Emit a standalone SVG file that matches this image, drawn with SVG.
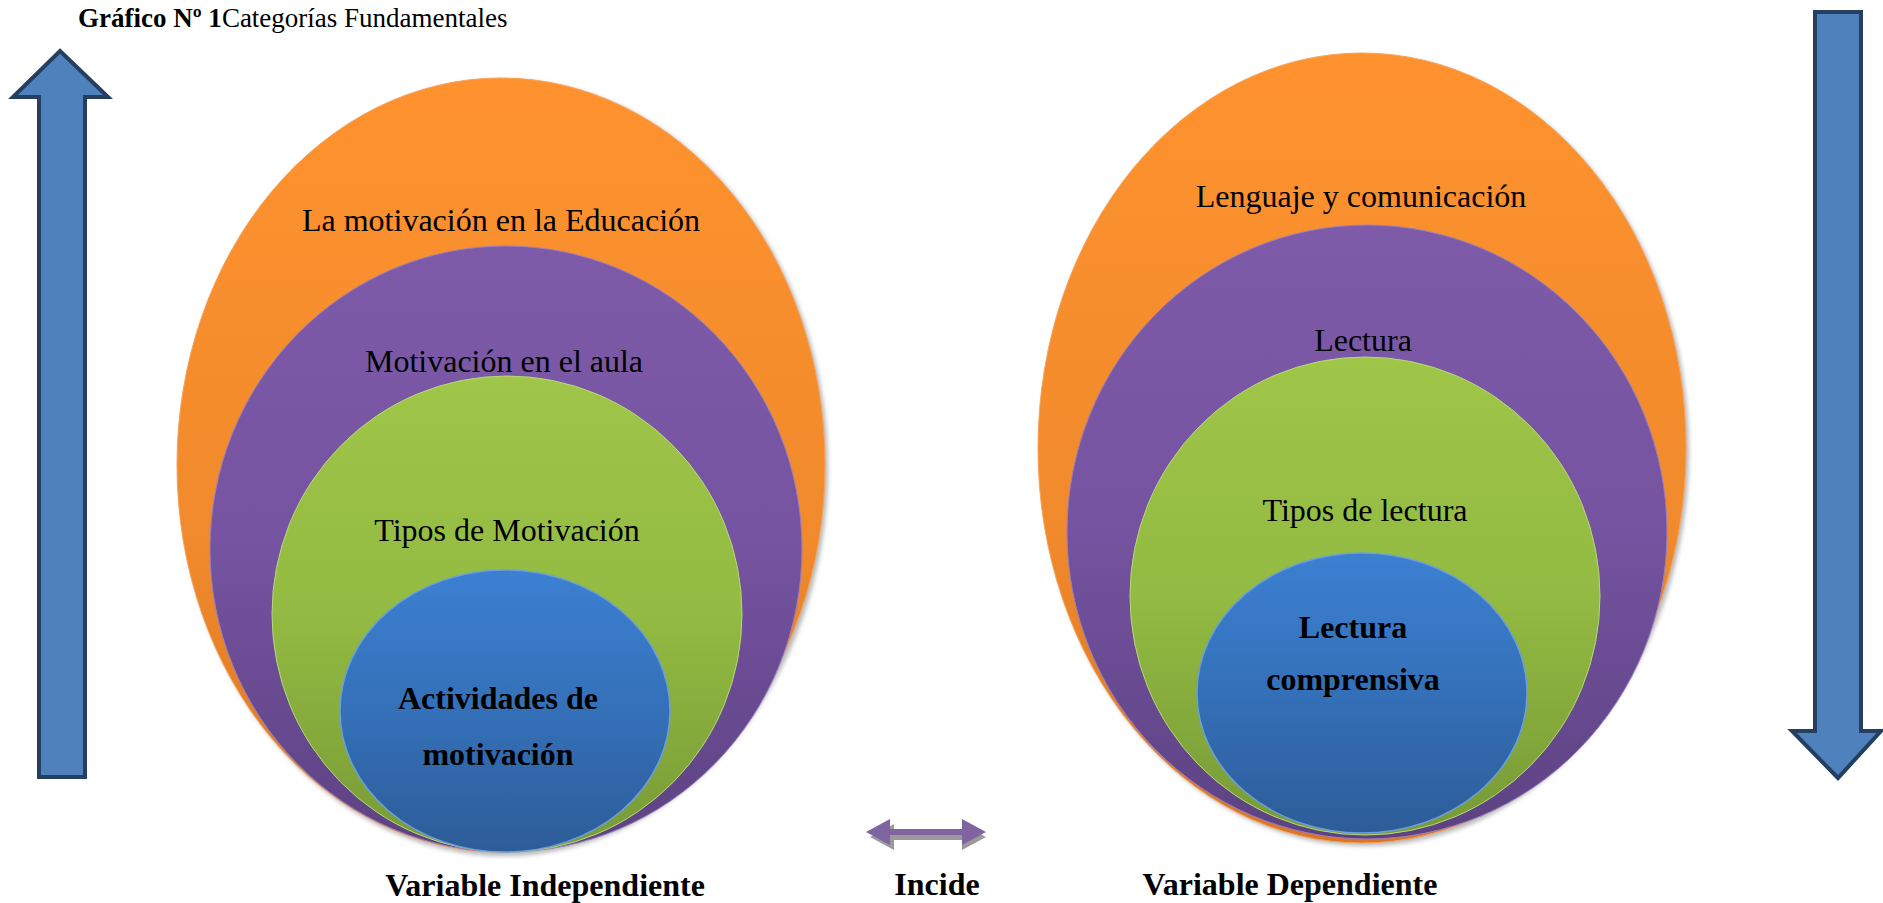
<svg xmlns="http://www.w3.org/2000/svg" width="1883" height="903" viewBox="0 0 1883 903">
<style>
.t{font-family:"Liberation Serif","Times New Roman",serif;fill:#000}
.lbl{font-size:32px;text-anchor:middle}
.b{font-weight:bold}
.arrow{fill:#4F81BD;stroke:#243F60;stroke-width:4;stroke-linejoin:miter}
</style>
<defs>
<linearGradient id="gO" x1="0" y1="0" x2="0" y2="1"><stop offset="0" stop-color="#FF922E"/><stop offset="0.6" stop-color="#F08A2C"/><stop offset="1" stop-color="#D97526"/></linearGradient>
<linearGradient id="gP" x1="0" y1="0" x2="0" y2="1"><stop offset="0" stop-color="#7E5BA8"/><stop offset="0.5" stop-color="#7553A0"/><stop offset="1" stop-color="#5C4282"/></linearGradient>
<linearGradient id="gG" x1="0" y1="0" x2="0" y2="1"><stop offset="0" stop-color="#9FC648"/><stop offset="0.5" stop-color="#93BA42"/><stop offset="1" stop-color="#779A36"/></linearGradient>
<linearGradient id="gB" x1="0" y1="0" x2="0" y2="1"><stop offset="0" stop-color="#3C80D2"/><stop offset="0.5" stop-color="#3470B8"/><stop offset="1" stop-color="#2D5C98"/></linearGradient>
<filter id="sh" x="-10%" y="-10%" width="120%" height="120%"><feGaussianBlur stdDeviation="2"/></filter>
</defs>

<g id="title"><text class="t" x="78" y="27" font-size="27"><tspan font-weight="bold">Gráfico Nº 1</tspan>Categorías Fundamentales</text></g>

<g id="arrow-up"><path class="arrow" d="M60,51 L108,97 L85,97 L85,777 L39,777 L39,97 L13,97 Z"/></g>
<g id="arrow-down"><path class="arrow" d="M1815,12 L1861,12 L1861,731 L1881,731 L1838,778 L1792,731 L1815,731 Z"/></g>

<g id="left-set">
<ellipse cx="504" cy="468" rx="324" ry="388" fill="#808080" opacity="0.55" filter="url(#sh)"/>
<g id="n-motivacion-educacion">
<ellipse cx="501" cy="465" rx="324" ry="387" fill="url(#gO)" stroke="#F7A35A" stroke-width="1"/>
<text class="t lbl" x="501" y="231">La motivación en la Educación</text>
</g>
<g id="n-motivacion-aula">
<ellipse cx="506" cy="549" rx="296" ry="303" fill="url(#gP)" stroke="#9A80BE" stroke-width="1"/>
<text class="t lbl" x="504" y="372">Motivación en el aula</text>
</g>
<g id="n-tipos-motivacion">
<ellipse cx="507" cy="614" rx="235" ry="238" fill="url(#gG)" stroke="#B8D77A" stroke-width="1"/>
<text class="t lbl" x="507" y="541">Tipos de Motivación</text>
</g>
<g id="n-actividades">
<ellipse cx="505" cy="711" rx="165" ry="141" fill="url(#gB)" stroke="#6B9FDB" stroke-width="1.5"/>
<text class="t lbl b" x="498" y="709">Actividades de</text>
<text class="t lbl b" x="498" y="765">motivación</text>
</g>
</g>

<g id="right-set">
<ellipse cx="1365" cy="451" rx="324" ry="395" fill="#808080" opacity="0.55" filter="url(#sh)"/>
<g id="n-lenguaje">
<ellipse cx="1362" cy="448" rx="324" ry="395" fill="url(#gO)" stroke="#F7A35A" stroke-width="1"/>
<text class="t lbl" x="1361" y="207">Lenguaje y comunicación</text>
</g>
<g id="n-lectura">
<ellipse cx="1367" cy="532" rx="300" ry="307" fill="url(#gP)" stroke="#9A80BE" stroke-width="1"/>
<text class="t lbl" x="1363" y="351">Lectura</text>
</g>
<g id="n-tipos-lectura">
<ellipse cx="1365" cy="596" rx="235" ry="239" fill="url(#gG)" stroke="#B8D77A" stroke-width="1"/>
<text class="t lbl" x="1365" y="521">Tipos de lectura</text>
</g>
<g id="n-lectura-comprensiva">
<ellipse cx="1362" cy="693" rx="165" ry="140" fill="url(#gB)" stroke="#6B9FDB" stroke-width="1.5"/>
<text class="t lbl b" x="1353" y="638">Lectura</text>
<text class="t lbl b" x="1353" y="690">comprensiva</text>
</g>
</g>

<g id="connectors">
<path d="M868,834 L892,821 L892,831 L960,831 L960,821 L984,834 L960,847 L960,837 L892,837 L892,847 Z" fill="#9A9A9A" transform="translate(2,3)"/>
<path d="M866,832 L890,819 L890,829 L962,829 L962,819 L986,832 L962,845 L962,835 L890,835 L890,845 Z" fill="#8064A2"/>
</g>

<g id="labels">
<text class="t lbl b" x="545" y="896">Variable Independiente</text>
<text class="t lbl b" x="937" y="895">Incide</text>
<text class="t lbl b" x="1290" y="895">Variable Dependiente</text>
</g>
</svg>
